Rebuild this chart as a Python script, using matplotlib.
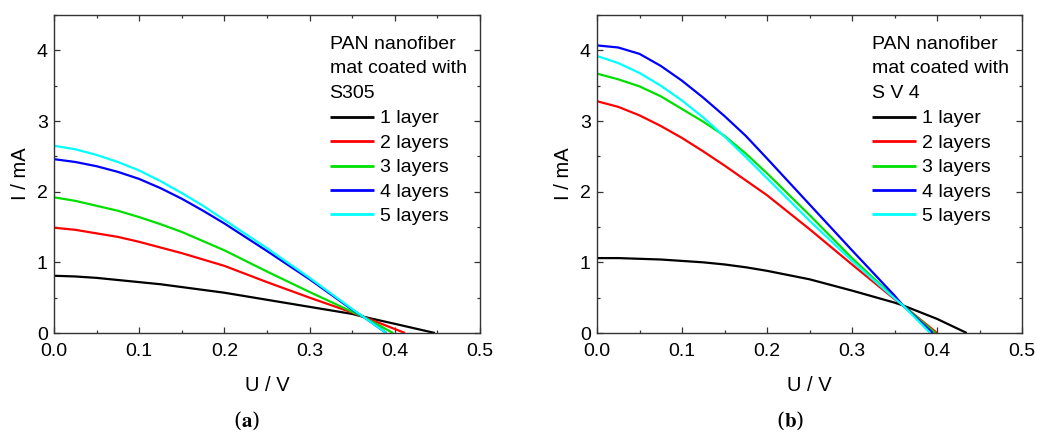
import numpy as np
import matplotlib
matplotlib.use("Agg")
import matplotlib.pyplot as plt
from matplotlib.ticker import MultipleLocator, FormatStrFormatter

plt.rcParams['font.family'] = ['Liberation Sans', 'DejaVu Sans']
plt.rcParams['mathtext.fontset'] = 'stix'

# ---- data ----
labels = ["1 layer", "2 layers", "3 layers", "4 layers", "5 layers"]
colors = ["#000000", "#ff0000", "#00e000", "#0000ff", "#00ffff"]

# panel (a): PAN nanofiber mat coated with S305
xa = [0.0, 0.025, 0.05, 0.075, 0.1, 0.125, 0.15, 0.175, 0.2, 0.25, 0.3, 0.35, 0.363]
ia_1 = [0.81, 0.80, 0.78, 0.75, 0.72, 0.69, 0.65, 0.61, 0.57, 0.47, 0.37, 0.27, 0.23]
ia_2 = [1.49, 1.46, 1.41, 1.36, 1.29, 1.21, 1.13, 1.04, 0.95, 0.72, 0.50, 0.29, 0.23]
ia_3 = [1.92, 1.87, 1.80, 1.73, 1.64, 1.54, 1.43, 1.30, 1.17, 0.87, 0.58, 0.30, 0.23]
ia_4 = [2.46, 2.42, 2.36, 2.28, 2.18, 2.05, 1.90, 1.73, 1.55, 1.16, 0.76, 0.33, 0.23]
ia_5 = [2.65, 2.60, 2.52, 2.42, 2.30, 2.15, 1.98, 1.80, 1.60, 1.20, 0.78, 0.34, 0.23]
xa_end = [[0.40, 0.447], [0.412], [0.398], [0.39], [0.39]]
ia_end = [[0.13, 0.0], [0.0], [0.0], [0.0], [0.0]]

# panel (b): PAN nanofiber mat coated with S V 4
xb = [0.0, 0.025, 0.05, 0.075, 0.1, 0.125, 0.15, 0.175, 0.2, 0.25, 0.3, 0.35, 0.36]
ib_1 = [1.06, 1.06, 1.05, 1.04, 1.02, 1.00, 0.97, 0.93, 0.88, 0.76, 0.60, 0.43, 0.39]
ib_2 = [3.28, 3.20, 3.08, 2.93, 2.76, 2.57, 2.37, 2.16, 1.95, 1.47, 0.97, 0.48, 0.39]
ib_3 = [3.67, 3.59, 3.49, 3.35, 3.17, 2.99, 2.79, 2.54, 2.26, 1.67, 1.06, 0.50, 0.39]
ib_4 = [4.07, 4.04, 3.95, 3.78, 3.57, 3.33, 3.07, 2.79, 2.47, 1.82, 1.17, 0.53, 0.39]
ib_5 = [3.92, 3.82, 3.68, 3.50, 3.29, 3.05, 2.78, 2.49, 2.19, 1.59, 1.02, 0.49, 0.39]
xb_end = [[0.4, 0.435], [0.40], [0.398], [0.395], [0.392]]
ib_end = [[0.20, 0.0], [0.0], [0.0], [0.0], [0.0]]

fig = plt.figure(figsize=(10.37, 4.36), dpi=100)
ax_a = fig.add_axes([54/1037, 1-333/436, 426/1037, 318/436])
ax_b = fig.add_axes([597/1037, 1-333/436, 425/1037, 318/436])


def draw(ax, x, series, x_end, i_end, title, tag, tag_x):
    for k, ys in enumerate(series):
        ax.plot(list(x) + x_end[k], list(ys) + i_end[k], color=colors[k],
                lw=1.6, label=labels[k], solid_capstyle='butt')
    ax.set_xlim(0, 0.5)
    ax.set_ylim(0, 4.5)
    ax.xaxis.set_major_locator(MultipleLocator(0.1))
    ax.xaxis.set_minor_locator(MultipleLocator(0.05))
    ax.yaxis.set_major_locator(MultipleLocator(1))
    ax.yaxis.set_minor_locator(MultipleLocator(0.5))
    ax.xaxis.set_major_formatter(FormatStrFormatter('%.1f'))
    ax.tick_params(which='both', direction='in', top=True, right=True,
                   labelsize=14, color='#333333', width=0.9)
    ax.tick_params(which='major', length=4.5)
    ax.tick_params(which='minor', length=2.5)
    ax.tick_params(axis='x', pad=7)
    ax.tick_params(axis='y', pad=4.5)
    for s in ax.spines.values():
        s.set_color('#333333')
        s.set_linewidth(1.0)
    ax.set_xlabel('U / V', fontsize=14.5, labelpad=12)
    ax.set_ylabel('I / mA', fontsize=14.5, labelpad=5)
    leg = ax.legend(title=title, loc='upper left', bbox_to_anchor=(0.647, 0.934),
                    frameon=False, fontsize=14, title_fontsize=14,
                    handlelength=2.27, handletextpad=0.31, labelspacing=0.35,
                    borderpad=0, borderaxespad=0, alignment='left')
    for h in leg.get_lines():
        h.set_linewidth(2.0)
    leg.get_title().set_linespacing(1.56)
    leg._legend_box.sep = 6
    fig.text(tag_x, 0.02, '(' + r'$\mathbf{' + tag + '}$' + ')',
             fontsize=15, ha='center', family='DejaVu Serif')


draw(ax_a, xa, [ia_1, ia_2, ia_3, ia_4, ia_5], xa_end, ia_end,
     "PAN nanofiber\nmat coated with\nS305", 'a', 247/1037)
draw(ax_b, xb, [ib_1, ib_2, ib_3, ib_4, ib_5], xb_end, ib_end,
     "PAN nanofiber\nmat coated with\nS V 4", 'b', 790/1037)

fig.savefig("out.png", dpi=100)
